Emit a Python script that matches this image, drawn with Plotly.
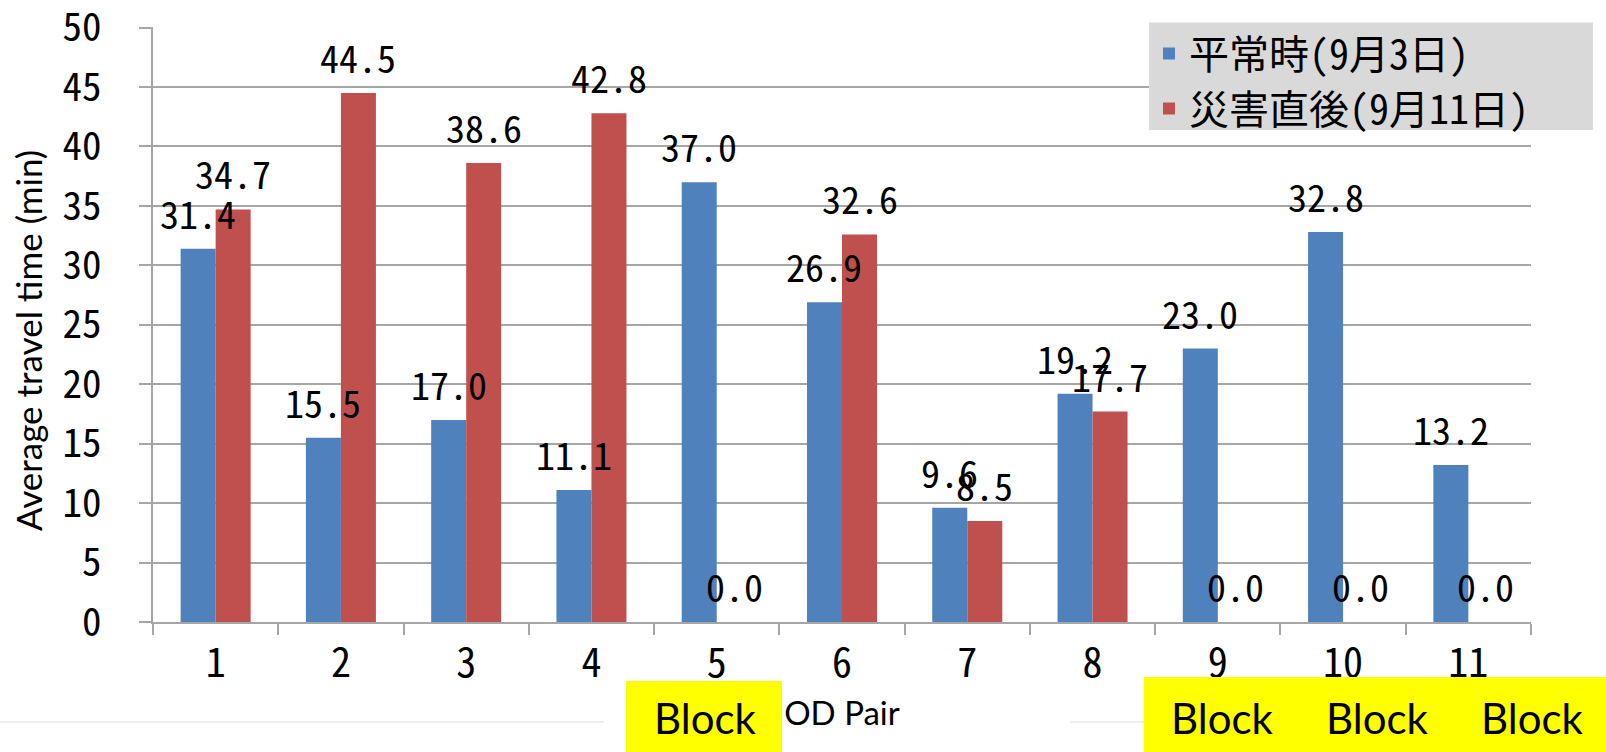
import plotly.graph_objects as go

# ---- data -------------------------------------------------------------
pairs = ["1", "2", "3", "4", "5", "6", "7", "8", "9", "10", "11"]
normal_day = [31.4, 15.5, 17.0, 11.1, 37.0, 26.9, 9.6, 19.2, 23.0, 32.8, 13.2]
after_disaster = [34.7, 44.5, 38.6, 42.8, 0.0, 32.6, 8.5, 17.7, 0.0, 0.0, 0.0]
series_names = ["平常時(9月3日)", "災害直後(9月11日)"]
y_ticks = [0, 5, 10, 15, 20, 25, 30, 35, 40, 45, 50]
y_title = "Average travel time (min)"
x_title = "OD Pair"
block_text = "Block"

# ---- geometry / style -------------------------------------------------
W, H = 1606, 752
ML, MR, MT, MB = 153, 75, 27, 130
PLOT_W = W - ML - MR
PLOT_H = H - MT - MB
BARGAP = 0.441

BLUE = "#4f81bd"
RED = "#c0504d"
GRID = "#a6a6a6"
MONO = "Noto Sans Mono CJK JP, Noto Sans CJK JP, monospace"
LATIN = "Lato, Open Sans, sans-serif"


def px_x(px):
    """Pixel column -> paper x."""
    return (px - ML) / PLOT_W


def px_y(py):
    """Pixel row -> paper y."""
    return (H - MB - py) / PLOT_H


fig = go.Figure()
fig.add_bar(x=pairs, y=normal_day, name=series_names[0], marker_color=BLUE,
            marker_line_width=0)
fig.add_bar(x=pairs, y=after_disaster, name=series_names[1], marker_color=RED,
            marker_line_width=0)

# value labels above each bar (x given as category index)
cat_w = PLOT_W / len(pairs)
half_bar = cat_w * (1 - BARGAP) / 4
for values, shift in ((normal_day, -half_bar), (after_disaster, half_bar)):
    for i, v in enumerate(values):
        fig.add_annotation(
            x=i, y=v, xref="x", yref="y", text=f"{v:.1f}",
            showarrow=False, xshift=shift, yanchor="bottom", yshift=7,
            font=dict(family=MONO, size=38, color="black"),
        )

# rotated y-axis caption
fig.add_annotation(x=px_x(28), y=px_y(341), xref="paper", yref="paper",
                   text=y_title, textangle=-90, showarrow=False,
                   xanchor="center", yanchor="middle",
                   font=dict(family=LATIN, size=35, color="black"))

shapes = []
# grey legend panel (drawn over the grid, under the legend entries)
shapes.append(dict(type="rect", xref="paper", yref="paper",
                   x0=px_x(1149), x1=px_x(1593), y0=px_y(130), y1=px_y(22.5),
                   fillcolor="#d9d9d9", line_width=0, layer="above"))
# faint outer frame line along the bottom
for x0, x1 in ((0, 604), (1070, 1144)):
    shapes.append(dict(type="line", xref="paper", yref="paper",
                       x0=px_x(x0), x1=px_x(x1), y0=px_y(722), y1=px_y(722),
                       line=dict(color="#e8e8e8", width=1.5)))
# yellow "Block" callouts
for x0, x1, y0 in ((626, 782, 681), (1144, 1606, 677)):
    shapes.append(dict(type="rect", xref="paper", yref="paper",
                       x0=px_x(x0), x1=px_x(x1), y0=px_y(752), y1=px_y(y0),
                       fillcolor="#ffff00", line_width=0, layer="above"))
for cx in (705, 1222, 1377, 1532):
    fig.add_annotation(x=px_x(cx), y=px_y(718), xref="paper", yref="paper",
                       text=block_text, showarrow=False,
                       xanchor="center", yanchor="middle",
                       font=dict(family=LATIN, size=42, color="black"))

fig.update_layout(
    width=W, height=H,
    margin=dict(l=ML, r=MR, t=MT, b=MB, pad=0, autoexpand=False),
    paper_bgcolor="white", plot_bgcolor="white",
    barmode="group", bargap=BARGAP, bargroupgap=0,
    shapes=shapes,
    showlegend=True,
    legend=dict(
        x=px_x(1149), y=px_y(21), xanchor="left", yanchor="top",
        bgcolor="rgba(0,0,0,0)", borderwidth=0,
        font=dict(family=MONO, size=40, color="black"),
    ),
    xaxis=dict(
        type="category", categoryorder="array", categoryarray=pairs,
        range=[-0.5, len(pairs) - 0.5], automargin=False,
        showline=True, linecolor=GRID, linewidth=1.5,
        ticks="outside", tickson="boundaries", ticklen=11, tickcolor=GRID,
        tickwidth=1.5, showgrid=False,
        tickfont=dict(family=MONO, size=40, color="black"),
        ticklabelstandoff=5,
        title=dict(text=x_title, font=dict(family=LATIN, size=33, color="black"),
                   standoff=14),
    ),
    yaxis=dict(
        range=[0, 50.05], tickvals=y_ticks, automargin=False,
        showline=True, linecolor=GRID, linewidth=1.5,
        ticks="outside", ticklen=12, tickcolor=GRID, tickwidth=1.5,
        showgrid=True, gridcolor=GRID, gridwidth=1.5, zeroline=False,
        tickfont=dict(family=MONO, size=39, color="black"),
        ticklabelstandoff=30, ticklabeloverflow="allow",
    ),
)

fig.write_html("out.html")
